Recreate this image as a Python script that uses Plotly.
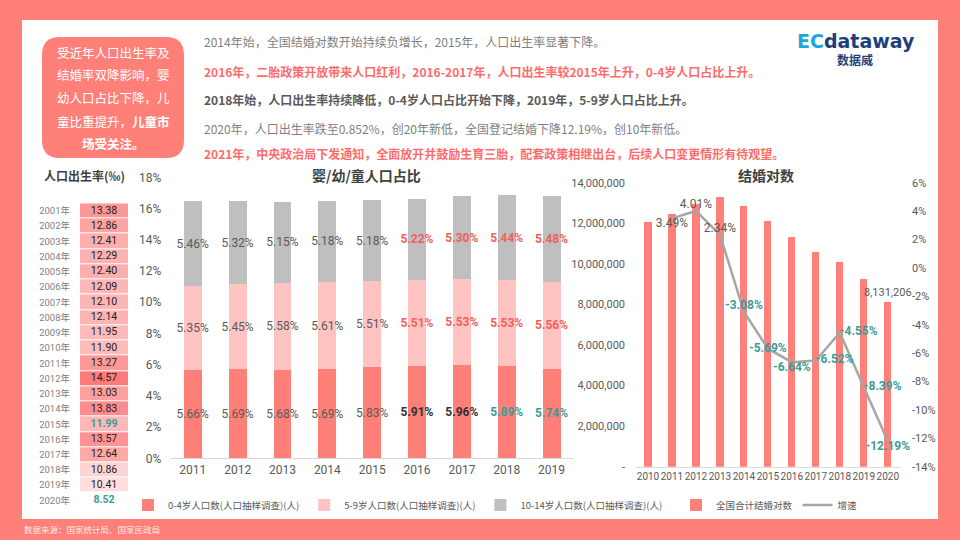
import plotly.graph_objects as go

# ---------------- data ----------------
birth_year_labels = ["2001年", "2002年", "2003年", "2004年", "2005年", "2006年", "2007年",
                     "2008年", "2009年", "2010年", "2011年", "2012年", "2013年", "2014年",
                     "2015年", "2016年", "2017年", "2018年", "2019年", "2020年"]
birth_rate = [13.38, 12.86, 12.41, 12.29, 12.40, 12.09, 12.10, 12.14, 11.95, 11.90,
              13.27, 14.57, 13.03, 13.83, 11.99, 13.57, 12.64, 10.86, 10.41, 8.52]
birth_highlight = ["2015年", "2020年"]   # teal text
birth_unshaded = ["2020年"]              # no cell colour

share_years = ["2011", "2012", "2013", "2014", "2015", "2016", "2017", "2018", "2019"]
age_0_4 = [5.66, 5.69, 5.68, 5.69, 5.83, 5.91, 5.96, 5.89, 5.74]
age_5_9 = [5.35, 5.45, 5.58, 5.61, 5.51, 5.51, 5.53, 5.53, 5.56]
age_10_14 = [5.46, 5.32, 5.15, 5.18, 5.18, 5.22, 5.30, 5.44, 5.48]

marriage_years = ["2010", "2011", "2012", "2013", "2014", "2015", "2016", "2017", "2018", "2019", "2020"]
marriages = [12050000, 12470000, 12970000, 13280000, 12870000, 12130000, 11330000,
             10590000, 10110000, 9260000, 8131206]
growth = [None, 3.49, 4.01, 2.34, -3.08, -5.69, -6.64, -6.52, -4.55, -8.39, -12.19]
growth_textpos = [None, "bottom center", "top center", "top center", "top center", "middle center",
                  "bottom center", "middle right", "middle right", "middle right", "bottom center"]

left_ticks = [0, 2000000, 4000000, 6000000, 8000000, 10000000, 12000000, 14000000]
right_ticks = [-14, -12, -10, -8, -6, -4, -2, 0, 2, 4, 6]

# ---------------- styles ----------------
SALMON = "#FF7F79"
PINK = "#FFC4C2"
GREY = "#BFBFBF"
TXT = "#595959"
RED_TXT = "#F25F5C"
TEAL = "#3A9C99"
FONT = "Roboto, 'Noto Sans CJK SC', sans-serif"
CJK = "'Noto Sans CJK SC', sans-serif"

W, H = 960, 540
def px(x):
    return x / W
def py(y):
    return 1 - y / H

fig = go.Figure()

# ---------- birth-rate table (heatmap) ----------
z = [[None] if lab in birth_unshaded else [v] for lab, v in zip(birth_year_labels, birth_rate)]
shaded_vals = [v for lab, v in zip(birth_year_labels, birth_rate) if lab not in birth_unshaded]
fig.add_trace(go.Heatmap(
    x=["v"], y=birth_year_labels, z=z,
    colorscale=[[0, "#FFDEDE"], [1, "#FF7A7A"]],
    zmin=min(shaded_vals), zmax=max(shaded_vals),
    showscale=False, ygap=1, hoverinfo="skip",
    xaxis="x4", yaxis="y4"))
fig.add_trace(go.Scatter(
    x=["v"] * len(birth_year_labels), y=birth_year_labels, mode="text",
    text=[f"<b>{v:.2f}</b>" if lab in birth_highlight else f"{v:.2f}"
          for lab, v in zip(birth_year_labels, birth_rate)],
    textfont=dict(size=10.5, family=FONT,
                  color=[TEAL if lab in birth_highlight else "#222222" for lab in birth_year_labels]),
    showlegend=False, hoverinfo="skip", xaxis="x4", yaxis="y4"))

# ---------- stacked share chart ----------
def colors_for(series):
    out = []
    for yr in share_years:
        if series == "low":
            if yr in ("2016", "2017"):
                out.append("#333333")
            elif yr in ("2018", "2019"):
                out.append(TEAL)
            else:
                out.append(TXT)
        else:
            out.append(RED_TXT if int(yr) >= 2016 else TXT)
    return out

def texts_for(vals):
    out = []
    for yr, v in zip(share_years, vals):
        s = f"{v:.2f}%"
        out.append(f"<b>{s}</b>" if int(yr) >= 2016 else s)
    return out

for name, vals, col, key in [
    ("0-4岁人口数(人口抽样调查)(人)", age_0_4, SALMON, "low"),
    ("5-9岁人口数(人口抽样调查)(人)", age_5_9, PINK, "mid"),
    ("10-14岁人口数(人口抽样调查)(人)", age_10_14, GREY, "high"),
]:
    fig.add_trace(go.Bar(
        x=share_years, y=vals, name=name, marker=dict(color=col, line=dict(width=0)),
        width=0.4, text=texts_for(vals), texttemplate="%{text}",
        textposition="inside", insidetextanchor="middle", constraintext="none", textangle=0,
        textfont=dict(size=12, family=FONT, color=colors_for(key)),
        xaxis="x2", yaxis="y2", legend="legend", hoverinfo="skip"))

# ---------- marriage chart ----------
fig.add_trace(go.Bar(
    x=marriage_years, y=marriages, name="全国合计结婚对数",
    marker=dict(color=SALMON, line=dict(width=0)), width=0.3,
    text=["" for _ in marriages[:-1]] + [f"{marriages[-1]:,}"],
    textposition="outside", constraintext="none", cliponaxis=False, textangle=0,
    textfont=dict(size=11, family=FONT, color=TXT),
    xaxis="x3", yaxis="y3", legend="legend2", hoverinfo="skip"))

gx = [x for x, g in zip(marriage_years, growth) if g is not None]
gy = [g for g in growth if g is not None]
gpos = [p for p, g in zip(growth_textpos, growth) if g is not None]
fig.add_trace(go.Scatter(
    x=gx, y=gy, name="增速", mode="lines+text",
    line=dict(color="#A6A6A6", width=2.5),
    text=[(f"<b>{g:.2f}%</b>" if g < 0 else f"{g:.2f}%") for g in gy],
    textposition=gpos, cliponaxis=False,
    textfont=dict(size=12, family=FONT, color=[TEAL if g < 0 else TXT for g in gy]),
    xaxis="x3", yaxis="y5", legend="legend2", hoverinfo="skip"))

# ---------------- layout ----------------
axis_font = dict(size=12, color=TXT, family=FONT)
fig.update_layout(
    width=W, height=H, margin=dict(l=0, r=0, t=0, b=0, pad=0, autoexpand=False),
    paper_bgcolor=SALMON, plot_bgcolor="rgba(0,0,0,0)",
    font=dict(family=FONT, color=TXT),
    barmode="stack", showlegend=True,
    xaxis4=dict(domain=[px(80), px(128)], anchor="y4", visible=False, range=[-0.5, 0.5],
                automargin=False),
    yaxis4=dict(domain=[py(508), py(203.3)], anchor="x4", range=[19.5, -0.5], type="category",
                showgrid=False, zeroline=False, showline=False, ticks="", automargin=False,
                ticklabelstandoff=9, tickfont=dict(size=9.5, color="#7F7F7F", family=FONT)),
    xaxis2=dict(domain=[px(170.4), px(574)], anchor="y2", type="category", automargin=False,
                showline=True, linecolor="#D9D9D9", linewidth=1, ticks="",
                showgrid=False, tickfont=axis_font, tickangle=0),
    yaxis2=dict(domain=[py(458.3), py(177.3)], anchor="x2", range=[0, 18], dtick=2,
                ticksuffix="%", showgrid=False, zeroline=False, showline=False, automargin=False,
                ticklabelstandoff=8, tickfont=axis_font),
    xaxis3=dict(domain=[px(636), px(901)], anchor="y3", type="category", automargin=False,
                showline=True, linecolor="#D9D9D9", linewidth=1, ticks="",
                showgrid=False, tickfont=dict(size=10, color=TXT, family=FONT), tickangle=0),
    yaxis3=dict(domain=[py(466.7), py(182.7)], anchor="x3", range=[0, 14000000],
                tickvals=left_ticks, automargin=False,
                ticktext=["-" if v == 0 else f"{v:,}" for v in left_ticks],
                showgrid=False, zeroline=False, showline=False,
                ticklabelstandoff=10, tickfont=dict(size=11, color=TXT, family=FONT)),
    yaxis5=dict(overlaying="y3", side="right", anchor="x3", range=[-14, 6],
                tickvals=right_ticks, automargin=False,
                ticktext=[(f"-{abs(v)}%" if v < 0 else f"{v}%") for v in right_ticks],
                showgrid=False, zeroline=False, showline=False,
                ticklabelstandoff=10, tickfont=dict(size=11, color=TXT, family=FONT)),
    legend=dict(orientation="h", x=px(128), y=py(505), xanchor="left", yanchor="middle",
                xref="container", yref="container",
                font=dict(size=9.5, color=TXT, family=CJK), bgcolor="rgba(0,0,0,0)",
                itemwidth=30, traceorder="normal"),
    legend2=dict(orientation="h", x=px(676), y=py(505), xanchor="left", yanchor="middle",
                 xref="container", yref="container",
                 font=dict(size=9.5, color=TXT, family=CJK), bgcolor="rgba(0,0,0,0)",
                 itemwidth=30, traceorder="normal"),
)

# ---------------- shapes ----------------
shapes = [dict(type="rect", xref="paper", yref="paper", x0=px(22), x1=px(938), y0=py(519), y1=py(20),
               fillcolor="white", line=dict(width=0), layer="below")]
bx0, bx1, byT, byB = px(42), px(184), py(37), py(158)
rx, ry = 18 / W, 18 / H
path = (f"M {bx0+rx},{byT} L {bx1-rx},{byT} Q {bx1},{byT} {bx1},{byT-ry} "
        f"L {bx1},{byB+ry} Q {bx1},{byB} {bx1-rx},{byB} L {bx0+rx},{byB} "
        f"Q {bx0},{byB} {bx0},{byB+ry} L {bx0},{byT-ry} Q {bx0},{byT} {bx0+rx},{byT} Z")
shapes.append(dict(type="path", xref="paper", yref="paper", path=path,
                   fillcolor=SALMON, line=dict(width=0), layer="below"))
fig.update_layout(shapes=shapes)

# ---------------- annotations ----------------
ann = []
def add_text(x, y, text, size=12, color=TXT, anchor="left", family=CJK):
    ann.append(dict(x=px(x), y=py(y), xref="paper", yref="paper", text=text, showarrow=False,
                    xanchor=anchor, yanchor="middle", font=dict(size=size, color=color, family=family)))

box_lines = [(52, "受近年人口出生率及"), (75, "结婚率双降影响，婴"), (98, "幼人口占比下降，儿"),
             (121, "童比重提升，<b>儿童市</b>"), (143, "<b>场受关注。</b>")]
for y, t in box_lines:
    add_text(113, y, t, size=12.5, color="white", anchor="center")

header = [
    (42, "2014年始，全国结婚对数开始持续负增长，2015年，人口出生率显著下降。", "#7F7F7F", False),
    (71, "2016年，二胎政策开放带来人口红利，2016-2017年，人口出生率较2015年上升，0-4岁人口占比上升。", "#FF6B6B", True),
    (99, "2018年始，人口出生率持续降低，0-4岁人口占比开始下降，2019年，5-9岁人口占比上升。", "#595959", True),
    (128, "2020年，人口出生率跌至0.852%，创20年新低，全国登记结婚下降12.19%，创10年新低。", "#7F7F7F", False),
    (153, "2021年，中央政治局下发通知，全面放开并鼓励生育三胎，配套政策相继出台，后续人口变更情形有待观望。", "#FF6B6B", True),
]
for y, t, c, b in header:
    add_text(202, y, f"<b>{t}</b>" if b else t, size=12, color=c)

add_text(84, 175, "<b>人口出生率(‰)</b>", size=12, color="#404040", anchor="center")
add_text(366, 175, "<b>婴/幼/童人口占比</b>", size=14, color="#404040", anchor="center")
add_text(766, 175, "<b>结婚对数</b>", size=14, color="#404040", anchor="center")

add_text(795, 41, "<b><span style='color:#1FA6E0'>EC</span>dataway</b>", size=19, color="#1F3F7A",
         family="'DejaVu Sans', sans-serif")
add_text(855, 59, "<b>数据威</b>", size=12, color="#1F3F7A", anchor="center")

add_text(22, 529, "数据来源：国家统计局、国家民政局", size=8.5, color="rgba(255,255,255,0.85)")

fig.update_layout(annotations=ann)
fig.write_html("out.html", config={"displayModeBar": False},
               post_script="document.body.style.margin='0';document.body.style.background='#FF7F79';")
